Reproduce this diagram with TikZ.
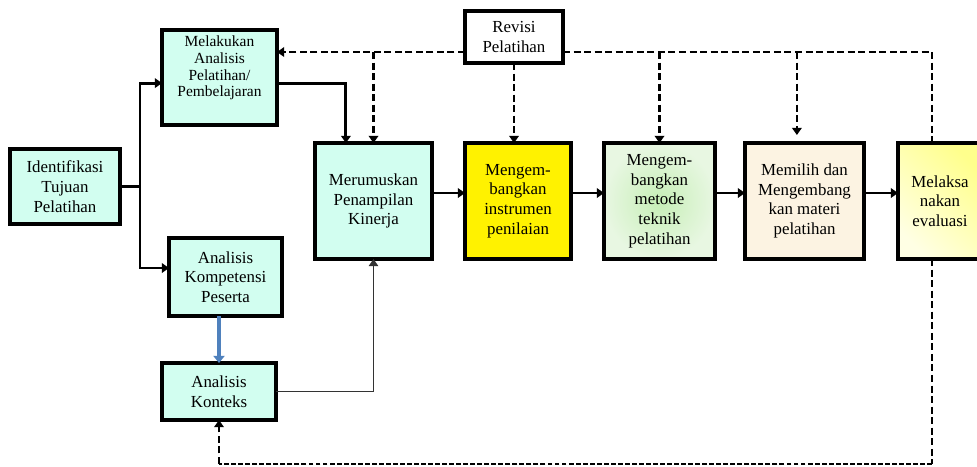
\documentclass[tikz,border=0pt]{standalone}
\usepackage{fontspec}
\setmainfont{Liberation Serif}
\usetikzlibrary{positioning, arrows.meta}

\definecolor{mint}{RGB}{210,254,240}
\definecolor{metin}{RGB}{198,238,182}
\definecolor{metout}{RGB}{232,247,226}
\definecolor{cream}{RGB}{252,243,226}
\definecolor{evatop}{RGB}{255,255,140}
\definecolor{evabot}{RGB}{255,255,228}
\definecolor{arrowblue}{RGB}{79,129,189}

\begin{document}
\begin{tikzpicture}[
    box/.style={rectangle, draw, line width=2.4pt, inner sep=1pt, outer sep=0pt, align=center, font=\fontsize{12}{14}\selectfont},
    mintbox/.style={box, fill=mint},
    mainbox/.style={box, minimum height=2.9cm},
    arrow/.style={-{Triangle[length=1.8mm, width=2.4mm]}, line width=2pt},
    thinarrow/.style={-{Triangle[length=1.8mm, width=2.4mm]}, line width=0.9pt, black!80},
    bluearrow/.style={-{Triangle[length=1.8mm, width=2.8mm]}, line width=2.4pt, arrowblue},
    fb/.style={line width=2pt, dash pattern=on 5pt off 2.5pt},
    fbarrow/.style={fb, -{Triangle[length=1.8mm, width=2.4mm]}},
    fbthin/.style={line width=0.8pt, dash pattern=on 3.5pt off 1.5pt},
]
\useasboundingbox (0,0) rectangle (24.425,-11.65);

% Left column
\node[mintbox, minimum width=2.75cm, minimum height=1.875cm] (idf) at (1.625,-4.6625) {Identifikasi\\Tujuan\\Pelatihan};
\node[mintbox, minimum width=2.875cm, minimum height=2.375cm, font=\fontsize{11}{12}\selectfont] (mel) at (5.4875,-1.9375) {Melakukan\\Analisis\\Pelatihan/\\Pembelajaran\\[4pt]};
\node[mintbox, minimum width=2.825cm, minimum height=1.95cm] (kom) at (5.6375,-6.925) {Analisis\\Kompetensi\\Peserta};
\node[mintbox, minimum width=2.85cm, minimum height=1.425cm, below=1.175cm of kom, xshift=-0.1625cm] (kon) {Analisis\\Konteks};

% Main row
\node[mainbox, fill=mint, minimum width=2.925cm] (mer) at (9.3375,-5.025) {Merumuskan\\Penampilan\\Kinerja};
\node[mainbox, fill=yellow, minimum width=2.65cm, right=0.825cm of mer] (ins) {Mengem-\\bangkan\\instrumen\\penilaian};
\node[mainbox, inner color=metin, outer color=metout, minimum width=2.775cm, right=0.825cm of ins] (met) {Mengem-\\bangkan\\metode\\teknik\\pelatihan};
\node[mainbox, fill=cream, minimum width=2.975cm, right=0.75cm of met] (pil) {Memilih dan\\Mengembang\\kan materi\\pelatihan};
\node[mainbox, top color=evatop, bottom color=evabot, shading angle=-45, minimum width=2.1cm, right=0.85cm of pil] (eva) {Melaksa\\nakan\\evaluasi};

% Revision
\node[box, fill=white, minimum width=2.45cm, minimum height=1.3cm, above=2cm of ins, xshift=-0.1cm] (rev) {Revisi\\Pelatihan};

\coordinate (rl) at ([yshift=-0.375cm]rev.west);
\coordinate (bot) at (0,-11.6);

% Arrows - left side
\draw[line width=2pt] (idf.east) -- ++(0.5,0) coordinate (split);
\draw[arrow] (split) |- ([yshift=-0.14cm]mel.west);
\draw[arrow] (split) |- ([yshift=0.225cm]kom.west);
\draw[arrow] ([yshift=-0.14cm]mel.east) -| ([xshift=-0.69cm]mer.north);
\draw[bluearrow] (kon.north |- kom.south) -- (kon.north);
\draw[thinarrow] (kon.east) -| (mer.south);

% Arrows - main row
\draw[arrow] ([yshift=0.2cm]mer.east) -- ([yshift=0.2cm]ins.west);
\draw[arrow] ([yshift=0.2cm]ins.east) -- ([yshift=0.2cm]met.west);
\draw[arrow] ([yshift=0.2cm]met.east) -- ([yshift=0.2cm]pil.west);
\draw[arrow] ([yshift=0.2cm]pil.east) -- ([yshift=0.2cm]eva.west);

% Revision lines
\draw[fbarrow] (rl) -- (mel.east |- rl);
\draw[fbarrow] (mer.north |- rl) -- (mer.north);
\draw[fbarrow] (rev.south) -- (rev.south |- ins.north);
\draw[fb] ([yshift=-0.375cm]rev.east) -| ([xshift=-0.2cm]eva.north);
\draw[fbarrow] (met.north |- rl) -- (met.north);
\draw[fbarrow, shorten >=0.2cm] ([xshift=-0.19cm]pil.north |- rl) -- ([xshift=-0.19cm]pil.north);

% Feedback from evaluation
\draw[fb] ([xshift=-0.2cm]eva.south) -- ([xshift=-0.2cm]eva.south |- bot);
\draw[fbthin] ([xshift=-0.2cm]eva.south |- bot) -- (kon.south |- bot);
\draw[fbarrow] (kon.south |- bot) -- (kon.south);

\end{tikzpicture}
\end{document}
